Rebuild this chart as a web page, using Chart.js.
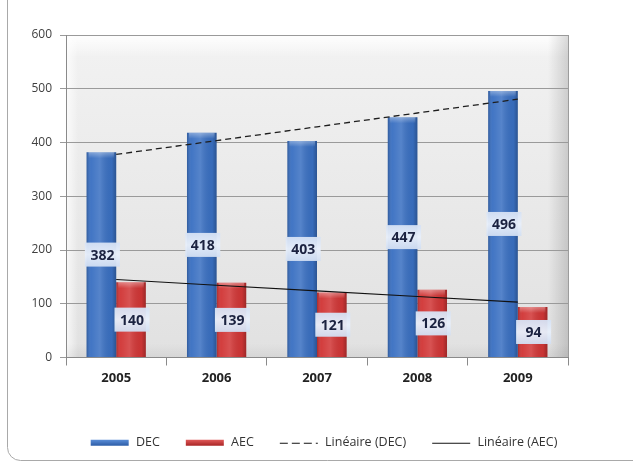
<!DOCTYPE html>
<html>
<head>
<meta charset="utf-8">
<script src="https://cdn.jsdelivr.net/npm/chart.js@4/dist/chart.umd.min.js"></script>
<style>
  html, body { margin: 0; padding: 0; background: #fff; }
  #wrap { width: 633px; height: 463px; }
</style>
</head>
<body>
<div id="wrap"><canvas id="decChart" width="633" height="463"></canvas></div>
<script>
const years = ['2005', '2006', '2007', '2008', '2009'];
const decValues = [382, 418, 403, 447, 496];
const aecValues = [140, 139, 121, 126, 94];
const yTicks = [0, 100, 200, 300, 400, 500, 600];

// least squares trend, same as Excel's "Linéaire"
function linearTrend(values) {
    const n = values.length;
    const mx = (n - 1) / 2;
    const my = values.reduce((a, b) => a + b, 0) / n;
    let num = 0, den = 0;
    values.forEach((v, i) => { num += (i - mx) * (v - my); den += (i - mx) * (i - mx); });
    const slope = num / den;
    return values.map((v, i) => my + slope * (i - mx));
}

const FONT = "'Open Sans', 'Liberation Sans', sans-serif";

// little canvases used as legend symbols
function legendSymbol(kind, c1, c2) {
    const cv = document.createElement('canvas');
    cv.width = 40; cv.height = 8;
    const g = cv.getContext('2d');
    if (kind === 'bar') {
        const gr = g.createLinearGradient(0, 1, 0, 7);
        gr.addColorStop(0, c1);
        gr.addColorStop(1, c2);
        g.fillStyle = gr;
        g.fillRect(1, 1, 38, 6);
    } else {
        g.strokeStyle = '#111';
        g.lineWidth = 1;
        if (kind === 'dash') g.setLineDash([8, 4]);
        g.beginPath();
        g.moveTo(1, 4.5);
        g.lineTo(39, 4.5);
        g.stroke();
    }
    return cv;
}

const backdrop = {
    id: 'backdrop',
    beforeDraw(chart) {
        const { ctx, chartArea: a } = chart;
        ctx.save();
        ctx.fillStyle = '#fff';
        ctx.fillRect(0, 0, chart.width, chart.height);
        // outer rounded frame
        ctx.strokeStyle = '#a9a9a9';
        ctx.lineWidth = 1;
        ctx.beginPath();
        ctx.roundRect(7.5, -20, 640, 480.5, 13);
        ctx.stroke();

        // plot area panel
        let g = ctx.createLinearGradient(0, a.top, 0, a.bottom);
        g.addColorStop(0, '#f2f2f2');
        g.addColorStop(1, '#e1e1e1');
        ctx.fillStyle = g;
        ctx.fillRect(a.left, a.top, a.width, a.height);
        // top bevel
        g = ctx.createLinearGradient(0, a.top, 0, a.top + 22);
        g.addColorStop(0, 'rgba(255,255,255,0.95)');
        g.addColorStop(1, 'rgba(255,255,255,0)');
        ctx.fillStyle = g;
        ctx.fillRect(a.left, a.top, a.width, 22);
        // left bevel
        g = ctx.createLinearGradient(a.left, 0, a.left + 12, 0);
        g.addColorStop(0, 'rgba(255,255,255,0.8)');
        g.addColorStop(1, 'rgba(255,255,255,0)');
        ctx.fillStyle = g;
        ctx.fillRect(a.left, a.top, 12, a.height);
        // right bevel, darker
        g = ctx.createLinearGradient(a.right - 20, 0, a.right, 0);
        g.addColorStop(0, 'rgba(0,0,0,0)');
        g.addColorStop(1, 'rgba(0,0,0,0.14)');
        ctx.fillStyle = g;
        ctx.fillRect(a.right - 20, a.top, 20, a.height);
        // bottom bevel
        g = ctx.createLinearGradient(0, a.bottom - 14, 0, a.bottom);
        g.addColorStop(0, 'rgba(0,0,0,0)');
        g.addColorStop(1, 'rgba(0,0,0,0.05)');
        ctx.fillStyle = g;
        ctx.fillRect(a.left, a.bottom - 14, a.width, 14);

        ctx.strokeStyle = '#9c9c9c';
        ctx.beginPath();
        ctx.moveTo(a.right + 0.5, a.top);
        ctx.lineTo(a.right + 0.5, a.bottom);
        ctx.stroke();
        ctx.restore();
    },
    afterDatasetDraw(chart, args) {
        if (args.meta.type !== 'bar') return;
        const ctx = chart.ctx;
        ctx.save();
        args.meta.data.forEach(bar => {
            const { x, y, base, width } = bar.getProps(['x', 'y', 'base', 'width'], true);
            const left = x - width / 2;
            const g = ctx.createLinearGradient(left, 0, left + width, 0);
            g.addColorStop(0, 'rgba(0,0,0,0.2)');
            g.addColorStop(0.15, 'rgba(255,255,255,0.04)');
            g.addColorStop(0.45, 'rgba(255,255,255,0.14)');
            g.addColorStop(0.85, 'rgba(0,0,0,0.04)');
            g.addColorStop(1, 'rgba(0,0,0,0.25)');
            ctx.fillStyle = g;
            ctx.fillRect(left, y, width, base - y);
            const t = ctx.createLinearGradient(0, y, 0, y + 6);
            t.addColorStop(0, 'rgba(255,255,255,0.35)');
            t.addColorStop(1, 'rgba(255,255,255,0)');
            ctx.fillStyle = t;
            ctx.fillRect(left + 2, y, width - 4, 6);
        });
        ctx.restore();
    },
    afterDatasetsDraw(chart) {
        const ctx = chart.ctx;
        ctx.save();
        ctx.font = 'bold 14px ' + FONT;
        ctx.textAlign = 'center';
        ctx.textBaseline = 'middle';
        [0, 1].forEach(di => {
            const ds = chart.data.datasets[di];
            chart.getDatasetMeta(di).data.forEach((bar, i) => {
                const { x, y, base } = bar.getProps(['x', 'y', 'base'], true);
                const cy = (y + base) / 2;
                const bw = 35, bh = 24;
                const g = ctx.createLinearGradient(0, cy - bh / 2, 0, cy + bh / 2);
                g.addColorStop(0, 'rgba(214,226,245,0.95)');
                g.addColorStop(0.5, 'rgba(232,239,250,0.97)');
                g.addColorStop(1, 'rgba(210,223,243,0.95)');
                ctx.fillStyle = g;
                ctx.fillRect(x + 1 - bw / 2, cy - bh / 2, bw, bh);
                ctx.fillStyle = '#1b2240';
                ctx.fillText(String(ds.data[i]), x + 1, cy + 1);
            });
        });
        ctx.restore();
    }
};

const symbols = [
    legendSymbol('bar', '#5a8ed8', '#2c5ca6'),
    legendSymbol('bar', '#e25a5a', '#a82424'),
    legendSymbol('dash'),
    legendSymbol('line')
];

new Chart(document.getElementById('decChart'), {
    type: 'bar',
    data: {
        labels: years,
        datasets: [
            { label: 'DEC', data: decValues, backgroundColor: '#3a70c2', order: 2,
              categoryPercentage: 0.59, barPercentage: 1 },
            { label: 'AEC', data: aecValues, backgroundColor: '#d13636', order: 2,
              categoryPercentage: 0.59, barPercentage: 1 },
            { type: 'line', label: 'Linéaire (DEC)', data: linearTrend(decValues), order: 1,
              borderColor: '#1e1e1e', borderWidth: 1.3, borderDash: [6, 4],
              pointRadius: 0, fill: false, backgroundColor: 'transparent' },
            { type: 'line', label: 'Linéaire (AEC)', data: linearTrend(aecValues), order: 1,
              borderColor: '#111', borderWidth: 1.1,
              pointRadius: 0, fill: false, backgroundColor: 'transparent' }
        ]
    },
    options: {
        responsive: false,
        animation: false,
        layout: { padding: { top: 35, right: 0, left: 14, bottom: 4 } },
        plugins: {
            tooltip: { enabled: false },
            legend: {
                position: 'bottom',
                labels: {
                    usePointStyle: true,
                    pointStyleWidth: 40,
                    boxHeight: 8,
                    padding: 25,
                    color: '#333',
                    font: { family: FONT, size: 12.5 },
                    sort: (a, b) => a.datasetIndex - b.datasetIndex,
                    generateLabels(chart) {
                        const items = Chart.defaults.plugins.legend.labels.generateLabels(chart);
                        items.forEach(it => { it.pointStyle = symbols[it.datasetIndex]; });
                        return items;
                    }
                }
            }
        },
        scales: {
            x: {
                grid: { drawOnChartArea: false, offset: true, tickLength: 8, color: '#8a8a8a' },
                border: { color: '#8a8a8a' },
                ticks: { color: '#222', padding: 5, font: { family: FONT, size: 13, weight: 'bold' } },
                afterFit: s => { s.height = 54; }
            },
            y: {
                min: yTicks[0],
                max: yTicks[yTicks.length - 1],
                afterBuildTicks: s => { s.ticks = yTicks.map(v => ({ value: v })); },
                grid: { color: '#9a9a9a', tickLength: 6 },
                border: { color: '#8a8a8a' },
                ticks: { color: '#404040', padding: 8, font: { family: FONT, size: 12 } },
                afterFit: s => { s.width = 52; }
            },
            // empty right margin, so the legend can stay centred on the whole width
            yRight: {
                position: 'right',
                min: yTicks[0],
                max: yTicks[yTicks.length - 1],
                grid: { display: false },
                border: { display: false },
                ticks: { display: false },
                afterFit: s => { s.width = 65; }
            }
        }
    },
    plugins: [backdrop]
});
</script>
</body>
</html>
